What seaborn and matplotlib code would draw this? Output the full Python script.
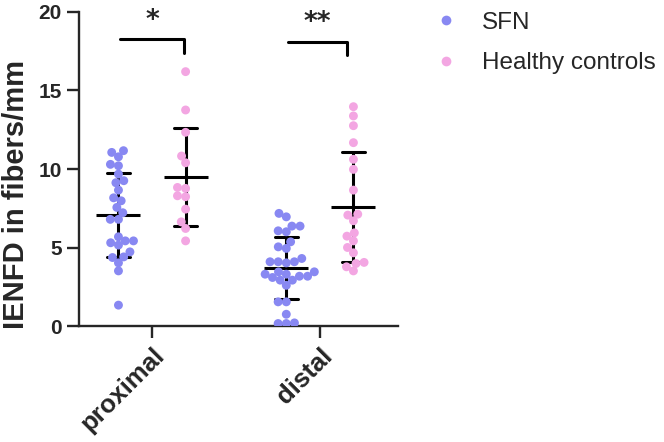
import seaborn as sns
import pandas as pd
import matplotlib.pyplot as plt
from matplotlib.collections import PathCollection
import warnings

warnings.filterwarnings("ignore")

regions = ["proximal", "distal"]
groups = ["SFN", "Healthy controls"]
colors = ["#8888F2", "#F3A6E2"]

proximal_sfn = [11.17, 11.06, 10.78, 10.30, 10.21, 9.68, 9.26, 9.13, 8.66, 8.17,
                7.98, 7.56, 7.22, 6.80, 6.80, 5.69, 5.43, 5.43, 5.31, 5.16,
                4.73, 4.41, 4.37, 4.03, 3.52, 1.34]
proximal_hc = [16.2, 13.76, 12.34, 10.83, 10.40, 8.83, 8.77, 8.30, 8.24, 7.45,
               6.64, 6.22, 5.43]
distal_sfn = [7.18, 6.96, 6.37, 6.37, 6.07, 6.01, 5.37, 5.05, 4.95, 4.31,
              4.10, 4.03, 4.10, 4.10, 3.46, 3.31, 3.18, 3.10, 3.18, 3.31,
              3.46, 2.93, 2.93, 2.60, 1.55, 1.55, 0.76, 0.21, 0.17, 0.17]
distal_hc = [13.97, 13.38, 12.76, 11.68, 10.62, 9.98, 8.66, 7.13, 7.07, 6.71,
             5.94, 5.73, 5.43, 5.01, 4.67, 4.06, 3.99, 3.78, 3.52]

# significance brackets: label, x from, x to, y top, y bottom of the right leg
sig_labels = ["*", "**"]
sig_x = [(-0.19, 0.19), (0.81, 1.16)]
sig_y = [(18.25, 17.4), (18.1, 17.25)]

rows = []
for region, sfn, hc in [("proximal", proximal_sfn, proximal_hc),
                        ("distal", distal_sfn, distal_hc)]:
    rows += [(region, "SFN", v) for v in sfn]
    rows += [(region, "Healthy controls", v) for v in hc]
df = pd.DataFrame(rows, columns=["region", "group", "IENFD"])

sns.set_style("ticks")
plt.rcParams['font.family'] = ['Liberation Sans', 'DejaVu Sans']

fig = plt.figure(figsize=(6.64, 4.42), dpi=100)
ax = fig.add_axes([0.119, 0.262, 0.48, 0.711])

# swarm laid out with smaller markers, then markers enlarged so they overlap
# a bit like the GraphPad scatter
sns.swarmplot(data=df, x="region", y="IENFD", hue="group", order=regions,
              hue_order=groups, palette=colors, dodge=True, size=5.6,
              linewidth=0, ax=ax)
ax.set_xlim(-0.435, 1.464)
ax.set_ylim(0, 20)
fig.canvas.draw()
for coll in ax.collections:
    if isinstance(coll, PathCollection):
        if "draw" in coll.__dict__:
            del coll.draw
        coll.set_sizes([6.4 ** 2])

sns.pointplot(data=df, x="region", y="IENFD", hue="group", order=regions,
              hue_order=groups, palette=["black", "black"], dodge=0.4,
              errorbar="sd", capsize=0.14, markers="_", markersize=32,
              markeredgewidth=2.2, linestyle="none", err_kws={"linewidth": 2.2},
              legend=False, ax=ax)

for lab, (x0, x1), (y0, y1) in zip(sig_labels, sig_x, sig_y):
    ax.plot([x0, x1, x1], [y0, y0, y1], color="black", lw=2.2, clip_on=False)
    ax.text((x0 + x1) / 2, y0 + 1.2, lab, ha="center", va="center",
            fontsize=19, fontweight="bold", family="DejaVu Sans")

ax.set_ylim(0, 20)
ax.set_yticks([0, 5, 10, 15, 20])
ax.set_xlim(-0.435, 1.464)
sns.despine(ax=ax)
for s in ["left", "bottom"]:
    ax.spines[s].set_linewidth(1.7)
ax.tick_params(width=1.7, length=8.5, labelsize=15, pad=4)
for t in ax.get_yticklabels():
    t.set_fontweight("bold")
ax.set_xticks([0, 1])
ax.set_xticklabels(regions, rotation=45, ha="right", rotation_mode="anchor",
                   fontsize=18.5, fontweight="bold")
ax.set_xlabel("")
ax.set_ylabel("IENFD in fibers/mm", fontsize=21, fontweight="bold")
ax.yaxis.set_label_coords(-0.155, 0.42)

handles, labels = ax.get_legend_handles_labels()
ax.legend(handles[:2], labels[:2], loc="upper left", bbox_to_anchor=(1.005, 1.07),
          frameon=False, fontsize=17.5, markerscale=1.25, handletextpad=0.5,
          labelspacing=0.75)

fig.savefig("out.png", dpi=100)
